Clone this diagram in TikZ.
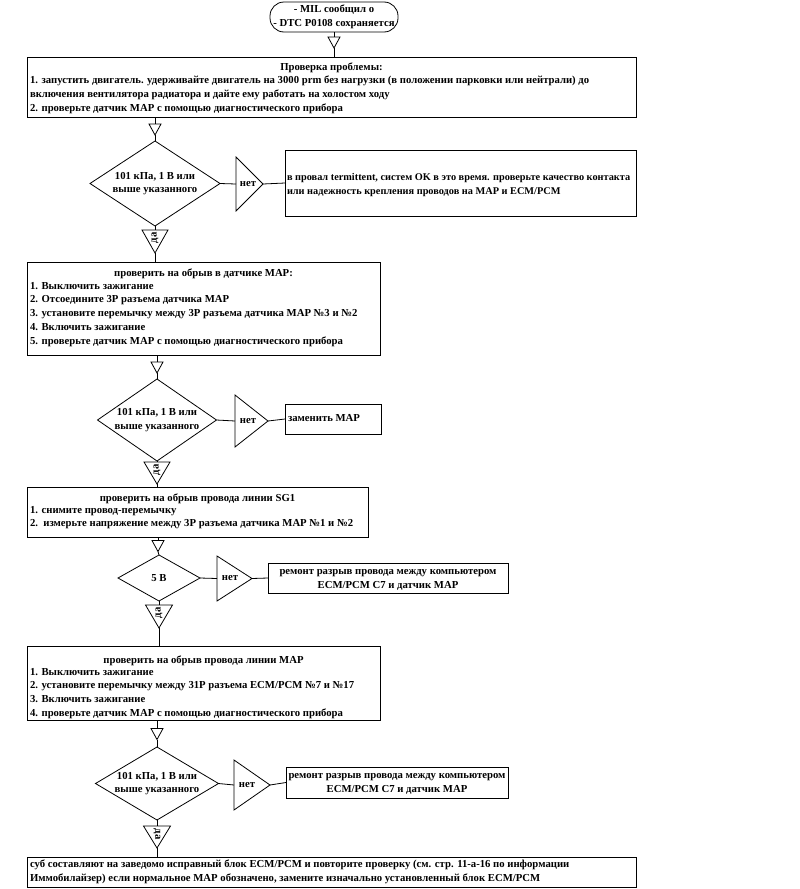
\documentclass[tikz,border=0pt]{standalone}
\usepackage{fontspec}
\setmainfont{Liberation Serif}
\usetikzlibrary{shapes.geometric,calc}
\newcommand\downtri[1]{\draw[ln] (#1.north west) -- (#1.north east) -- (#1.south) -- cycle;}
\newcommand\righttri[1]{\draw[ln] (#1.north west) -- (#1.east) -- (#1.south west) -- cycle;}
\begin{document}
\begin{tikzpicture}[x=1pt,y=-1pt,
  every node/.style={font=\fontsize{10.7}{13.8}\selectfont\bfseries, inner sep=0pt, outer sep=0pt},
  ln/.style={line width=0.8pt},
  box/.style={draw, ln, rectangle, anchor=north west},
  dia/.style={draw, ln, diamond, inner sep=0pt},
  hold/.style={rectangle, inner sep=0pt},
  body/.style={align=left, anchor=north west},
  ctext/.style={align=center},
  conn/.style={ln}
]
\useasboundingbox (0,0) rectangle (800,889);

% start terminal
\node[draw, ln, rounded corners=14pt, minimum width=128, minimum height=30, ctext] (b0) at (334,17) {- MIL сообщил о\\- DTC P0108 сохраняется};
\node[hold, minimum width=12, minimum height=11] (s0) at (334,42.5) {};
\downtri{s0}

% box 1
\node[box, minimum width=609, minimum height=60] (b1) at (27,57) {};
\node[anchor=base] (b1t) at (331.5,70) {Проверка проблемы:};
\node[body] (b1b) at (30,76) {1. запустить двигатель. удерживайте двигатель на 3000 prm без нагрузки (в положении парковки или нейтрали) до\\
включения вентилятора радиатора и дайте ему работать на холостом ходу\\
2. проверьте датчик MAP с помощью диагностического прибора};

\node[hold, minimum width=12, minimum height=11] (s1) at (155,129.5) {};
\downtri{s1}

% diamond 1
\node[dia, minimum width=130, minimum height=85] (d1) at (155,183.5) {};
\node[ctext] at (d1) {101 кПа, 1 В или\\выше указанного};
\node[hold, minimum width=27, minimum height=54] (n1) at (249.5,184) {};
\righttri{n1}
\node at ($(n1.west)+(12,0)$) {нет};
\node[box, minimum width=351, minimum height=66] (r1) at (285,150) {};
\node[body, font=\fontsize{10.3}{14.5}\selectfont\bfseries] at (287,173) {в провал termittent, систем OK в это время. проверьте качество контакта\\или надежность крепления проводов на MAP и ECM/PCM};
\node[hold, minimum width=26, minimum height=23] (y1) at (155,241.5) {};
\downtri{y1}
\node[rotate=90] at ($(y1.north)+(0,8)$) {да};

% box 2
\node[box, minimum width=353, minimum height=93] (b2) at (27,262) {};
\node[anchor=base] at (203.5,276) {проверить на обрыв в датчике MAP:};
\node[body] at (30,282) {1. Выключить зажигание\\
2. Отсоедините 3P разъема датчика MAP\\
3. установите перемычку между 3P разъема датчика MAP №3 и №2\\
4. Включить зажигание\\
5. проверьте датчик MAP с помощью диагностического прибора};

\node[hold, minimum width=12, minimum height=11] (s2) at (157,367.5) {};
\downtri{s2}

% diamond 2
\node[dia, minimum width=119, minimum height=82] (d2) at (157,420) {};
\node[ctext] at (d2) {101 кПа, 1 В или\\выше указанного};
\node[hold, minimum width=33, minimum height=52] (n2) at (251.5,421) {};
\righttri{n2}
\node at ($(n2.west)+(13,0)$) {нет};
\node[box, minimum width=96, minimum height=30] (r2) at (285,404) {};
\node[anchor=base west] at (288,421) {заменить MAP};
\node[hold, minimum width=26, minimum height=22] (y2) at (157,473) {};
\downtri{y2}
\node[rotate=90] at ($(y2.north)+(0,8)$) {да};

% box 3
\node[box, minimum width=341, minimum height=50] (b3) at (27,487) {};
\node[anchor=base] at (197.5,501) {проверить на обрыв провода линии SG1};
\node[body] at (30,506) {1. снимите провод-перемычку\\
2.\ \ измерьте напряжение между 3P разъема датчика MAP №1 и №2};

\node[hold, minimum width=12, minimum height=11] (s3) at (158,546) {};
\downtri{s3}

% diamond 3
\node[dia, minimum width=82, minimum height=46] (d3) at (159,578) {};
\node at (d3) {5 В};
\node[hold, minimum width=35, minimum height=45] (n3) at (234.5,578.5) {};
\righttri{n3}
\node at ($(n3.west)+(13,0)$) {нет};
\node[box, minimum width=240, minimum height=30] (r3) at (268,563) {};
\node[ctext] at ($(r3.center)+(0,2)$) {ремонт разрыв провода между компьютером\\ECM/PCM C7 и датчик MAP};
\node[hold, minimum width=27, minimum height=23] (y3) at (159,616.5) {};
\downtri{y3}
\node[rotate=90] at ($(y3.north)+(0,8)$) {да};

% box 4
\node[box, minimum width=353, minimum height=74] (b4) at (27,646) {};
\node[anchor=base] at (203.5,663) {проверить на обрыв провода линии MAP};
\node[body] at (30,668) {1. Выключить зажигание\\
2. установите перемычку между 31P разъема ECM/PCM №7 и №17\\
3. Включить зажигание\\
4. проверьте датчик MAP с помощью диагностического прибора};

\node[hold, minimum width=12, minimum height=11] (s4) at (157,734) {};
\downtri{s4}

% diamond 4
\node[dia, minimum width=123, minimum height=73] (d4) at (157,783.5) {};
\node[ctext] at (d4) {101 кПа, 1 В или\\выше указанного};
\node[hold, minimum width=36, minimum height=50] (n4) at (252,785) {};
\righttri{n4}
\node at ($(n4.west)+(13,0)$) {нет};
\node[box, minimum width=222, minimum height=31] (r4) at (286,767) {};
\node[ctext] at ($(r4.center)+(0,1)$) {ремонт разрыв провода между компьютером\\ECM/PCM C7 и датчик MAP};
\node[hold, minimum width=27, minimum height=22] (y4) at (157,837) {};
\downtri{y4}
\node[rotate=-90] at ($(y4.north)+(0,8)$) {да};

% box 5
\node[box, minimum width=609, minimum height=30] (b5) at (27,857) {};
\node[body] at (30,860) {суб составляют на заведомо исправный блок ECM/PCM и повторите проверку (см. стр. 11-а-16 по информации\\
Иммобилайзер) если нормальное MAP обозначено, замените изначально установленный блок ECM/PCM};

% connectors
\draw[conn] (b0.south) -- (s0.north);
\draw[conn] (s0.south) -- (s0.south |- b1.north);
\draw[conn] (s1.north |- b1.south) -- (s1.north);
\draw[conn] (s1.south) -- (d1.north);
\draw[conn] (d1.east) -- (n1.west);
\draw[conn] (n1.east) -- (r1.west);
\draw[conn] (d1.south) -- (y1.north);
\draw[conn] (y1.south) -- (y1.south |- b2.north);
\draw[conn] (s2.north |- b2.south) -- (s2.north);
\draw[conn] (s2.south) -- (d2.north);
\draw[conn] (d2.east) -- (n2.west);
\draw[conn] (n2.east) -- (r2.west);
\draw[conn] (d2.south) -- (y2.north);
\draw[conn] (y2.south) -- (y2.south |- b3.north);
\draw[conn] (s3.north |- b3.south) -- (s3.north);
\draw[conn] (s3.south) -- (d3.north);
\draw[conn] (d3.east) -- (n3.west);
\draw[conn] (n3.east) -- (r3.west);
\draw[conn] (d3.south) -- (y3.north);
\draw[conn] (y3.south) -- (y3.south |- b4.north);
\draw[conn] (s4.north |- b4.south) -- (s4.north);
\draw[conn] (s4.south) -- (d4.north);
\draw[conn] (d4.east) -- (n4.west);
\draw[conn] (n4.east) -- (r4.west);
\draw[conn] (d4.south) -- (y4.north);
\draw[conn] (y4.south) -- (y4.south |- b5.north);
\end{tikzpicture}
\end{document}
